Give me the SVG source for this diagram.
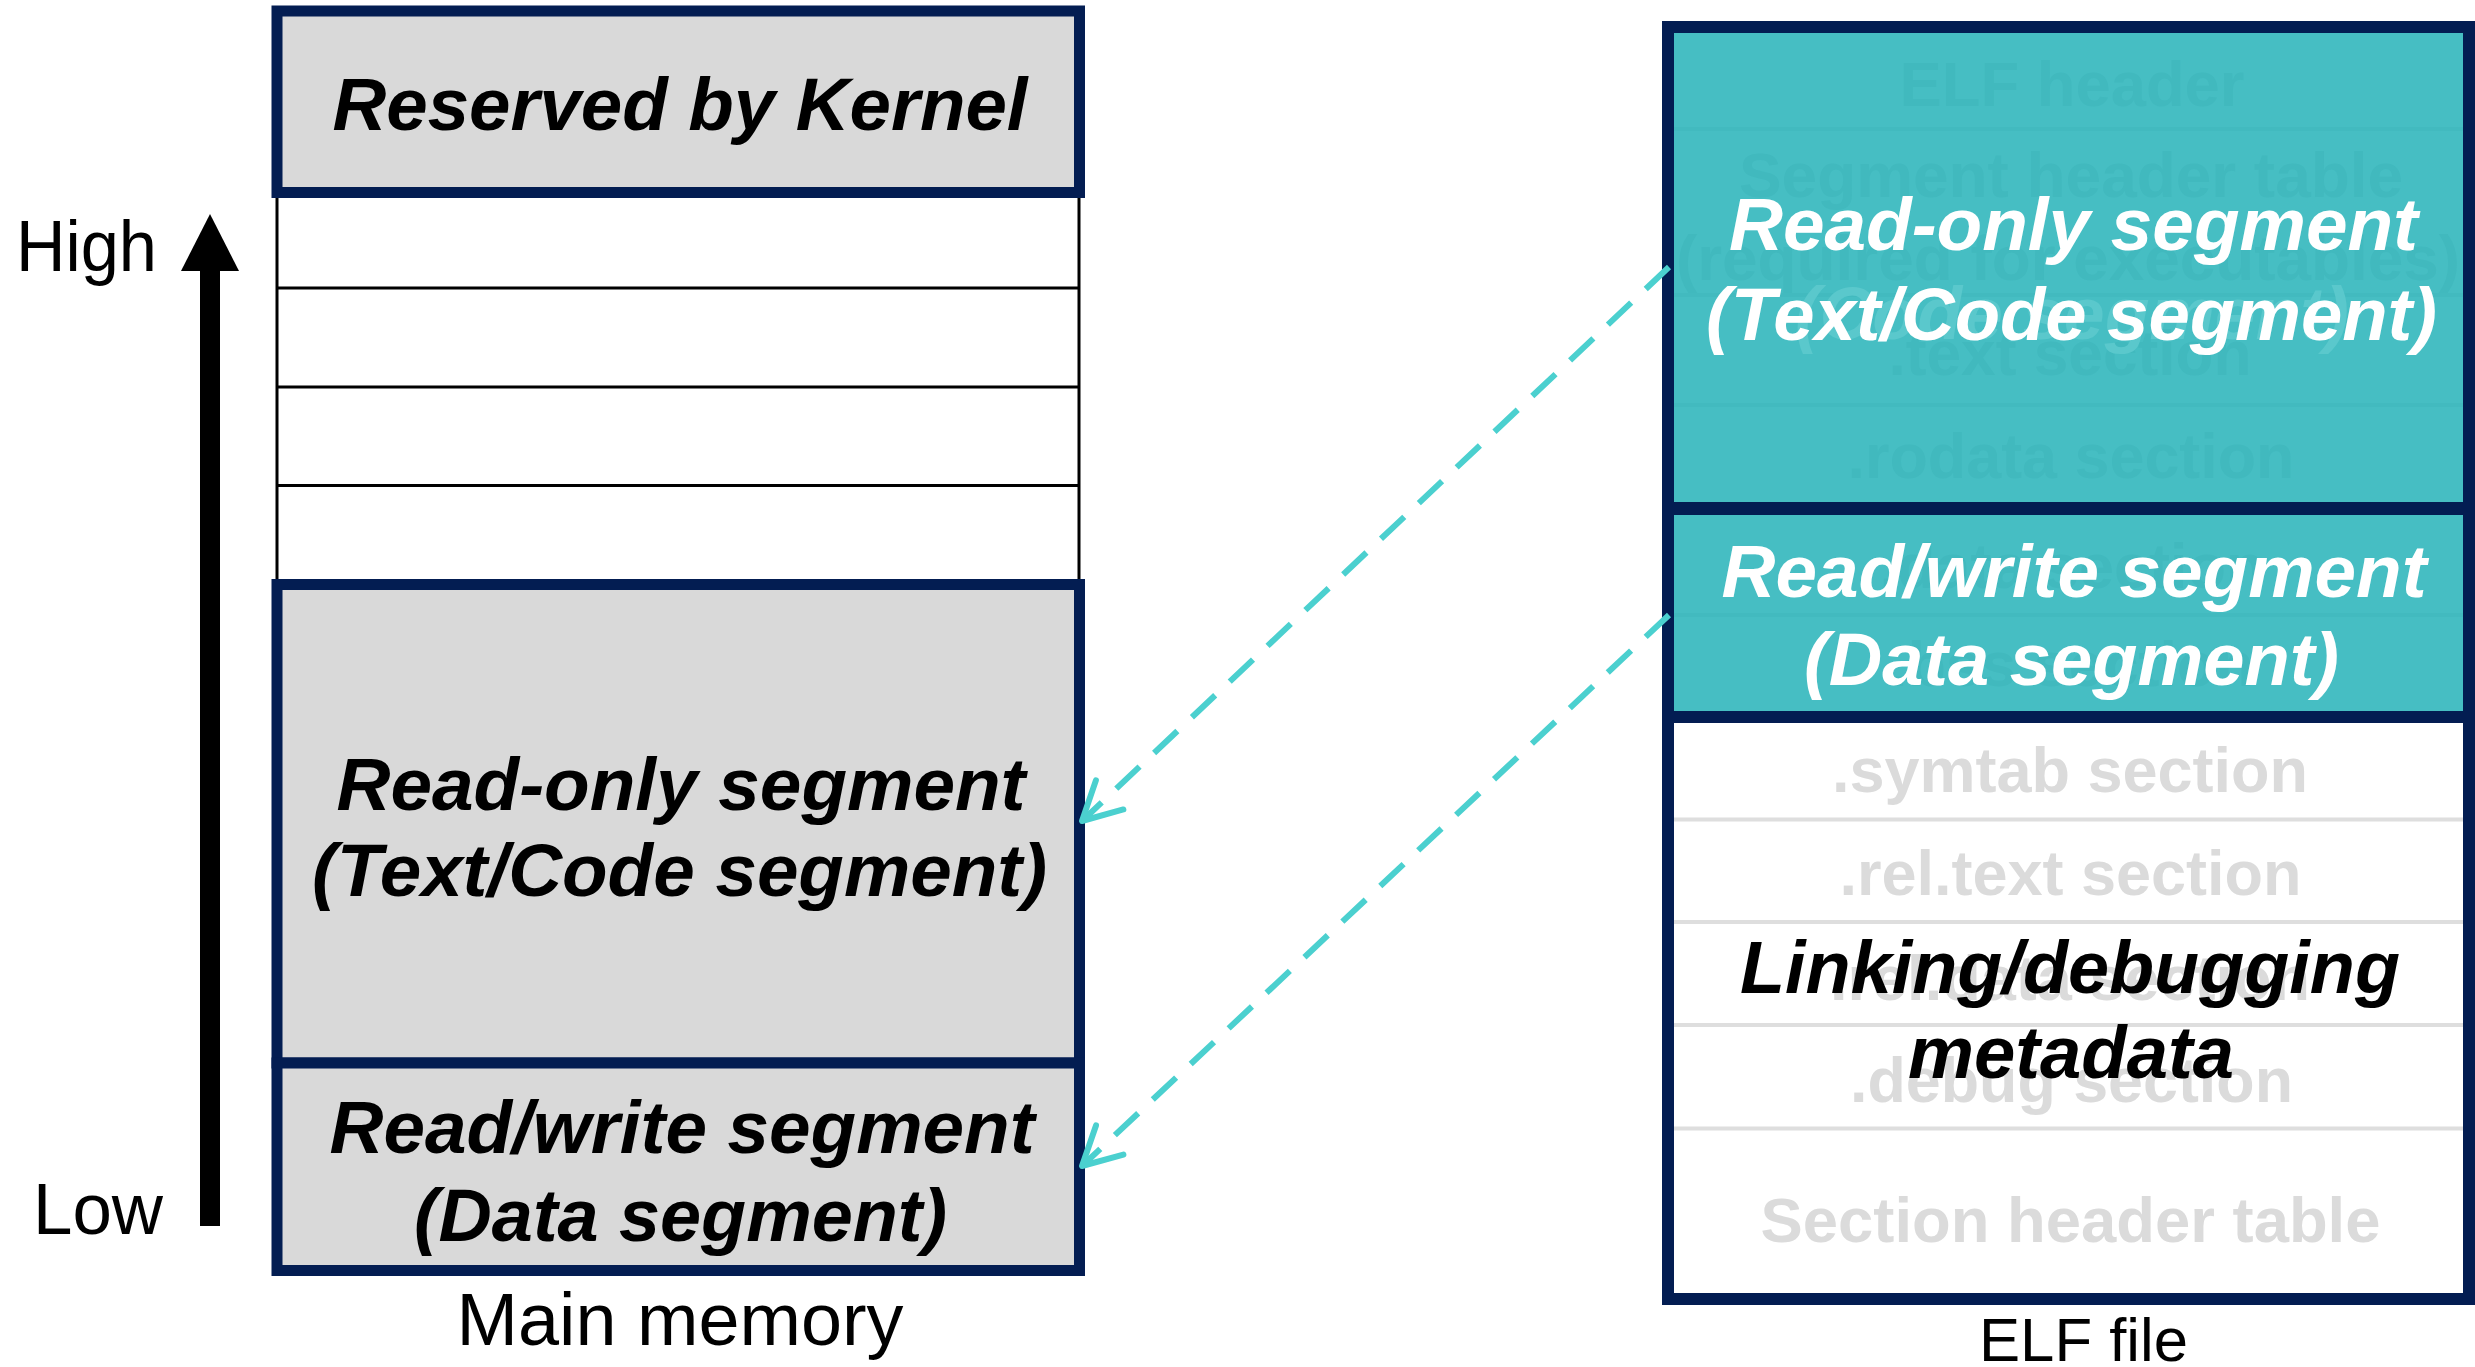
<svg xmlns="http://www.w3.org/2000/svg" width="2475" height="1367" viewBox="0 0 2475 1367">
<style>
.box{stroke:#031D52;stroke-width:11}
.gray{fill:#D9D9D9}
.teal{fill:#46BEC3}
.row{stroke:#000;stroke-width:3;fill:none}
.lbl{font-family:"Liberation Sans",Arial,sans-serif;font-weight:bold;font-style:italic;font-size:74px;text-anchor:middle}
.plain{font-family:"Liberation Sans",Arial,sans-serif;font-size:72px;fill:#000}
.sec{font-family:"Liberation Sans",Arial,sans-serif;font-weight:bold;font-size:63px;text-anchor:middle;fill:#DBDBDB}
.ghost{font-family:"Liberation Sans",Arial,sans-serif;font-weight:bold;font-size:63px;text-anchor:middle;fill:#41B9BE}
.gline{stroke:#DEDEDE;stroke-width:4}
.tline{stroke:#42BABF;stroke-width:4}
.conn{stroke:#4BD0CF;stroke-width:6;fill:none;stroke-dasharray:32 20}
</style>
<defs>
<marker id="vhead" markerUnits="userSpaceOnUse" markerWidth="60" markerHeight="60" viewBox="-45 -30 50 60" refX="0" refY="0" orient="auto">
<path d="M-38,-20 L0,0 L-38,20" fill="none" stroke="#4BD0CF" stroke-width="6" stroke-linecap="round" stroke-linejoin="round"/>
</marker>
</defs>
<rect width="2475" height="1367" fill="#fff"/>

<!-- Left axis -->
<g id="axis">
<rect x="200" y="262" width="20" height="964" fill="#000"/>
<polygon points="210,214 181,271 239,271" fill="#000"/>
<text class="plain" x="16" y="271" textLength="141" lengthAdjust="spacingAndGlyphs">High</text>
<text class="plain" x="33" y="1234" textLength="130" lengthAdjust="spacingAndGlyphs">Low</text>
</g>

<!-- Main memory -->
<g id="free-rows">
<line class="row" x1="277" y1="198" x2="277" y2="580"/>
<line class="row" x1="1079" y1="198" x2="1079" y2="580"/>
<line class="row" x1="277" y1="288" x2="1079" y2="288"/>
<line class="row" x1="277" y1="387" x2="1079" y2="387"/>
<line class="row" x1="277" y1="485.5" x2="1079" y2="485.5"/>
</g>
<g id="mem-kernel">
<rect class="box gray" x="277" y="11" width="802.5" height="181.5"/>
<text class="lbl" x="680" y="130" textLength="695" lengthAdjust="spacingAndGlyphs">Reserved by Kernel</text>
</g>
<g id="mem-readonly">
<rect class="box gray" x="277" y="584.5" width="802.5" height="478.5"/>
<text class="lbl" x="681" y="810" textLength="689" lengthAdjust="spacingAndGlyphs">Read-only segment</text>
<text class="lbl" x="679.5" y="896" textLength="735" lengthAdjust="spacingAndGlyphs">(Text/Code segment)</text>
</g>
<g id="mem-readwrite">
<rect class="box gray" x="277" y="1063" width="802.5" height="207.5"/>
<text class="lbl" x="682" y="1153" textLength="705" lengthAdjust="spacingAndGlyphs">Read/write segment</text>
<text class="lbl" x="680.5" y="1241" textLength="533" lengthAdjust="spacingAndGlyphs">(Data segment)</text>
</g>
<g id="mem-caption">
<text class="plain" x="680" y="1345" text-anchor="middle" textLength="447" lengthAdjust="spacingAndGlyphs" style="font-size:74px">Main memory</text>
</g>

<!-- ELF file -->
<g id="elf-file">
<rect x="1668" y="27" width="801" height="1272" fill="#fff" stroke="#031D52" stroke-width="12"/>
</g>
<g id="elf-readonly">
<rect class="teal" x="1674" y="33" width="789" height="469"/>
<line class="tline" x1="1674" y1="129" x2="2463" y2="129"/>
<line class="tline" x1="1674" y1="295" x2="2463" y2="295"/>
<line class="tline" x1="1674" y1="405" x2="2463" y2="405"/>
<text class="ghost" x="2072" y="106" textLength="345" lengthAdjust="spacingAndGlyphs">ELF header</text>
<text class="ghost" x="2071" y="197" textLength="664" lengthAdjust="spacingAndGlyphs">Segment header table</text>
<text class="ghost" x="2068" y="280" textLength="784" lengthAdjust="spacingAndGlyphs">(required for executables)</text>
<text class="ghost" x="2070" y="375" textLength="363" lengthAdjust="spacingAndGlyphs">.text section</text>
<text class="ghost" x="2071" y="478" textLength="447" lengthAdjust="spacingAndGlyphs">.rodata section</text>
<text class="lbl" x="2072" y="339" fill="#5AC8CC" textLength="554" lengthAdjust="spacingAndGlyphs">(Code segment)</text>
<text class="lbl" x="2073.5" y="250" fill="#fff" textLength="689" lengthAdjust="spacingAndGlyphs">Read-only segment</text>
<text class="lbl" x="2071.5" y="340" fill="#fff" textLength="731" lengthAdjust="spacingAndGlyphs">(Text/Code segment)</text>
</g>
<g id="elf-readwrite">
<rect class="teal" x="1674" y="514" width="789" height="197"/>
<line class="tline" x1="1674" y1="615" x2="2463" y2="615"/>
<text class="ghost" x="2072" y="588" textLength="385" lengthAdjust="spacingAndGlyphs">.data section</text>
<text class="ghost" x="2072" y="686" textLength="364" lengthAdjust="spacingAndGlyphs">.bss section</text>
<text class="lbl" x="2074" y="597" fill="#fff" textLength="705" lengthAdjust="spacingAndGlyphs">Read/write segment</text>
<text class="lbl" x="2071.5" y="685" fill="#fff" textLength="535" lengthAdjust="spacingAndGlyphs">(Data segment)</text>
</g>
<g id="elf-dividers">
<line x1="1668" y1="508.5" x2="2469" y2="508.5" stroke="#031D52" stroke-width="13"/>
<line x1="1668" y1="717" x2="2469" y2="717" stroke="#031D52" stroke-width="12"/>
</g>
<g id="elf-metadata">
<line class="gline" x1="1674" y1="819.5" x2="2463" y2="819.5"/>
<line class="gline" x1="1674" y1="922" x2="2463" y2="922"/>
<line class="gline" x1="1674" y1="1025" x2="2463" y2="1025"/>
<line class="gline" x1="1674" y1="1128.5" x2="2463" y2="1128.5"/>
<text class="sec" x="2070" y="792" textLength="476" lengthAdjust="spacingAndGlyphs">.symtab section</text>
<text class="sec" x="2070.5" y="895" textLength="462" lengthAdjust="spacingAndGlyphs">.rel.text section</text>
<text class="sec" x="2070" y="1000" textLength="480" lengthAdjust="spacingAndGlyphs">.rel.data section</text>
<text class="sec" x="2071.5" y="1102" textLength="443" lengthAdjust="spacingAndGlyphs">.debug section</text>
<text class="sec" x="2070.5" y="1242" textLength="620" lengthAdjust="spacingAndGlyphs">Section header table</text>
<text class="lbl" x="2070" y="993" fill="#000" textLength="660" lengthAdjust="spacingAndGlyphs">Linking/debugging</text>
<text class="lbl" x="2071" y="1078" fill="#000" textLength="326" lengthAdjust="spacingAndGlyphs">metadata</text>
</g>
<g id="elf-caption">
<text x="2083.5" y="1361" text-anchor="middle" font-family="Liberation Sans, Arial, sans-serif" font-size="62" textLength="209" lengthAdjust="spacingAndGlyphs">ELF file</text>
</g>

<!-- Connectors -->
<g id="connectors">
<path class="conn" d="M1669,267 L1082,821" marker-end="url(#vhead)"/>
<path class="conn" d="M1669,615 L1082,1166" marker-end="url(#vhead)"/>
</g>
</svg>
